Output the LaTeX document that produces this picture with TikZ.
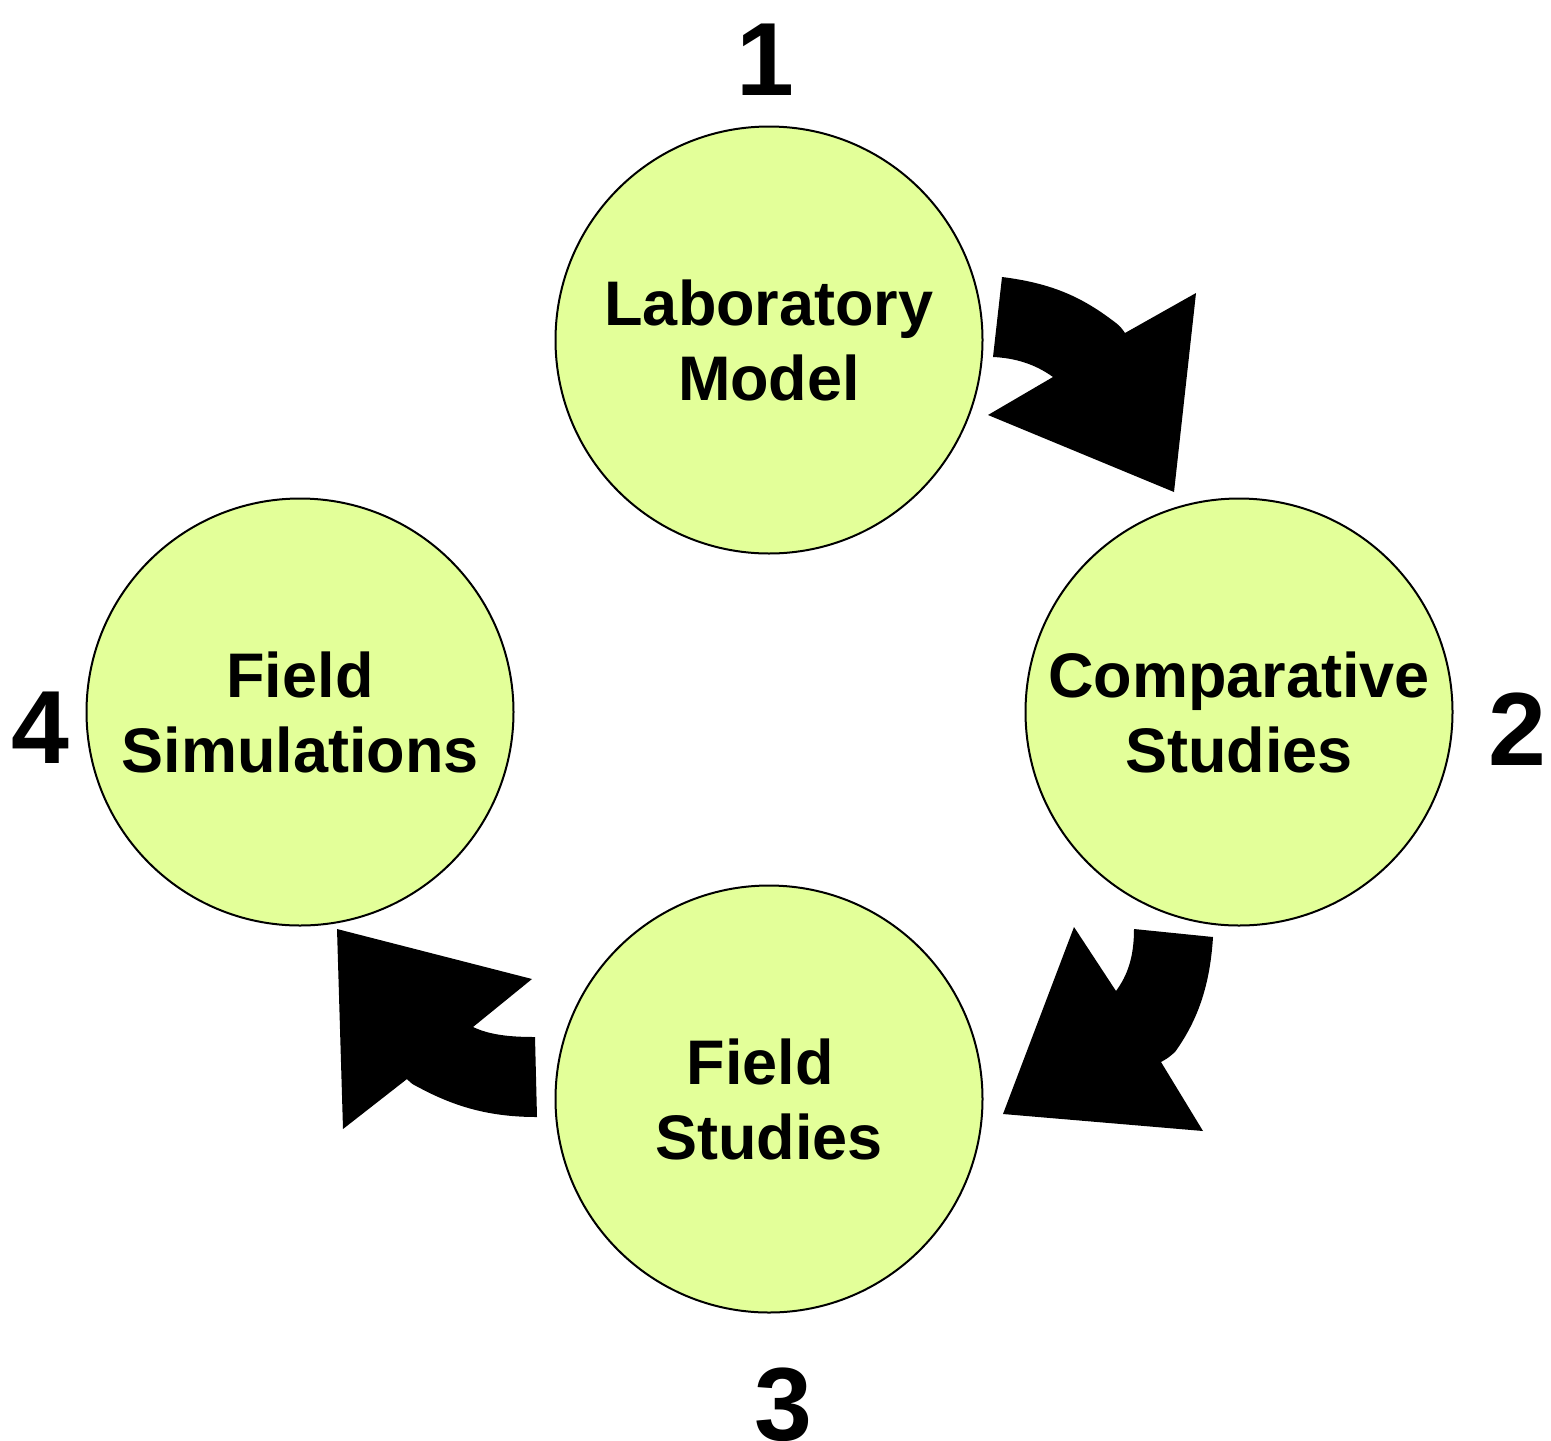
\documentclass[tikz,border=0pt]{standalone}
\usepackage{fontspec}
\setmainfont{Liberation Sans}
\definecolor{ballfill}{RGB}{227,255,153}
\tikzset{
  ball/.style={circle, draw=black, line width=1pt, fill=ballfill, minimum size=213.5pt, inner sep=0pt,
    align=center, font=\bfseries\fontsize{31.5pt}{37.5pt}\selectfont},
  numlabel/.style={anchor=base, inner sep=0pt, font=\bfseries\fontsize{52pt}{60pt}\selectfont},
  blockarrow/.style={fill=black, draw=none}
}
\begin{document}
\begin{tikzpicture}[x=0.5pt,y=-0.5pt]
\useasboundingbox (0,0) rectangle (1551,1440);
\node[ball] (lab) at (769,340) {Laboratory\\Model};
\node[ball] (comp) at (1239,712) {Comparative\\Studies};
\node[ball] (fstud) at (769,1099) {Field\kern0.28em\\Studies};
\node[ball] (fsim) at (300,712) {Field\\Simulations};
\node[numlabel] (n1) at (765,95) {1};
\node[numlabel] (n2) at (1517,765) {2};
\node[numlabel] (n3) at (783,1440) {3};
\node[numlabel] (n4) at (40,763) {4};
% arrow 1 -> 2
\path[blockarrow] (1002,277) .. controls (1050,283) and (1080,296) .. (1112,320)
  .. controls (1120,326) .. (1125,333) -- (1196,293) -- (1174,492) -- (988,415) -- (1053,377)
  .. controls (1035,364) and (1015,358) .. (993,357) -- cycle;
% arrow 2 -> 3
\path[blockarrow] (1134,929) -- (1213,937) .. controls (1210,985) and (1198,1020) .. (1175,1052)
  .. controls (1168,1058) .. (1161,1062) -- (1203,1131) -- (1003,1114) -- (1074,927) -- (1116,991)
  .. controls (1127,976) and (1134,958) .. (1134,929) -- cycle;
% arrow 3 -> 4
\path[blockarrow] (337,929) -- (532,979) -- (473,1027) .. controls (490,1035) and (510,1037) .. (535,1037)
  -- (537,1117) .. controls (490,1117) and (455,1107) .. (418,1087)
  .. controls (412,1084) .. (407,1079) -- (343,1129) -- cycle;
\end{tikzpicture}
\end{document}
